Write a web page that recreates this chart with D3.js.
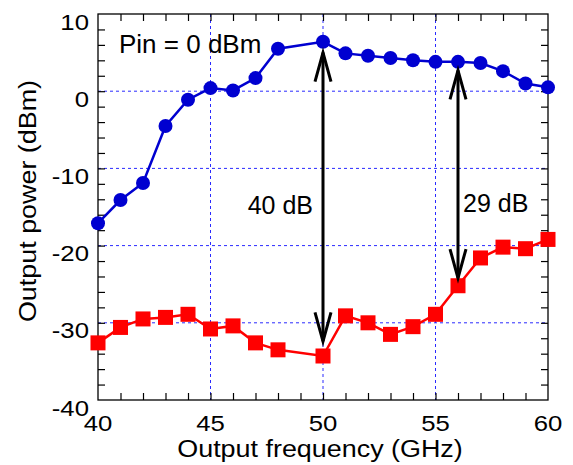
<!DOCTYPE html>
<html>
<head>
<meta charset="utf-8">
<script src="https://cdn.jsdelivr.net/npm/d3@7"></script>
<style>
  body { margin: 0; background: #fff; }
  text { font-family: "Liberation Sans", Arial, sans-serif; fill: #000; }
</style>
</head>
<body>
<div id="chart"></div>
<script>
// data (no point at 49 GHz)
var freqs = [40, 41, 42, 43, 44, 45, 46, 47, 48, 50, 51, 52, 53, 54, 55, 56, 57, 58, 59, 60];
var pout = [-17.1, -14.1, -11.9, -4.5, -1.1, 0.4, 0.1, 1.7, 5.5, 6.4, 4.9, 4.6, 4.3, 4.0, 3.8, 3.8, 3.65, 2.6, 1.0, 0.5];
var leak = [-32.6, -30.6, -29.5, -29.3, -28.9, -30.8, -30.4, -32.6, -33.5, -34.3, -29.1, -30.0, -31.5, -30.5, -28.9, -25.2, -21.6, -20.2, -20.4, -19.2];

var xTicks = [40, 45, 50, 55, 60];
var yTicks = [10, 0, -10, -20, -30, -40];

// arrows between the two curves
var arrowX = [50, 56];
var arrowTop = [5.0, 2.7];
var arrowBottom = [-32.4, -24.2];
var arrowLabels = ["40 dB", "29 dB"];

var svgWidth = 573;
var svgHeight = 465;

var svg = d3.select("#chart")
  .append("svg")
  .attr("width", svgWidth)
  .attr("height", svgHeight);

var x = d3.scaleLinear().domain([40, 60]).range([98, 548]);
var y = d3.scaleLinear().domain([-40, 10]).range([400, 14]);

var stretch = 1.17;

// grid
var grid = svg.append("g")
  .attr("stroke", "#2a2aff")
  .attr("stroke-width", 1)
  .attr("stroke-dasharray", "3,3");

grid.selectAll("line.v")
  .data(xTicks.slice(1, -1))
  .enter().append("line")
  .attr("x1", d => x(d)).attr("x2", d => x(d))
  .attr("y1", y(10)).attr("y2", y(-40));

grid.selectAll("line.h")
  .data(yTicks.slice(1, -1))
  .enter().append("line")
  .attr("y1", d => y(d)).attr("y2", d => y(d))
  .attr("x1", x(40)).attr("x2", x(60));

// axes with inward ticks, labels drawn separately
var tickLen = 7;
function axisStyle(g) {
  g.select(".domain").remove();
  g.selectAll("line").attr("stroke", "#000").attr("stroke-width", 1.2);
  g.selectAll("text").remove();
}

svg.append("g").attr("transform", `translate(0,${y(-40)})`)
  .call(d3.axisBottom(x).tickValues(d3.range(41, 60)).tickSize(-tickLen)).call(axisStyle);
svg.append("g").attr("transform", `translate(0,${y(10)})`)
  .call(d3.axisTop(x).tickValues(d3.range(41, 60)).tickSize(-tickLen)).call(axisStyle);
svg.append("g").attr("transform", `translate(${x(40)},0)`)
  .call(d3.axisLeft(y).tickValues(d3.range(-38, 10, 2)).tickSize(-tickLen)).call(axisStyle);
svg.append("g").attr("transform", `translate(${x(60)},0)`)
  .call(d3.axisRight(y).tickValues(d3.range(-38, 10, 2)).tickSize(-tickLen)).call(axisStyle);

// frame
svg.append("rect")
  .attr("x", x(40)).attr("y", y(10))
  .attr("width", x(60) - x(40)).attr("height", y(-40) - y(10))
  .attr("fill", "none").attr("stroke", "#000").attr("stroke-width", 1.3);

// tick labels
svg.selectAll("text.xt")
  .data(xTicks)
  .enter().append("text")
  .attr("class", "xt")
  .attr("transform", d => `translate(${x(d)},431) scale(${stretch},1)`)
  .attr("text-anchor", "middle")
  .style("font-size", "22px")
  .text(d => d);

svg.selectAll("text.yt")
  .data(yTicks)
  .enter().append("text")
  .attr("class", "yt")
  .attr("transform", d => `translate(89,${y(d) + 15.5}) scale(${stretch},1)`)
  .attr("text-anchor", "end")
  .style("font-size", "22px")
  .text(d => d);

// axis titles
svg.append("text")
  .attr("transform", `translate(320,457) scale(${stretch},1)`)
  .attr("text-anchor", "middle")
  .style("font-size", "23px")
  .text("Output frequency (GHz)");

svg.append("text")
  .attr("transform", `translate(36,201) rotate(-90) scale(${stretch},1)`)
  .attr("text-anchor", "middle")
  .style("font-size", "23px")
  .text("Output power (dBm)");

// series
var line = d3.line()
  .x((d, i) => x(freqs[i]))
  .y(d => y(d));

svg.append("path")
  .datum(pout)
  .attr("d", line)
  .attr("fill", "none")
  .attr("stroke", "#0000d0")
  .attr("stroke-width", 2.5);

svg.selectAll("circle.p")
  .data(pout)
  .enter().append("circle")
  .attr("cx", (d, i) => x(freqs[i]))
  .attr("cy", d => y(d))
  .attr("r", 7)
  .attr("fill", "#0000d0");

svg.append("path")
  .datum(leak)
  .attr("d", line)
  .attr("fill", "none")
  .attr("stroke", "#ff0000")
  .attr("stroke-width", 2.5);

var sq = 15;
svg.selectAll("rect.l")
  .data(leak)
  .enter().append("rect")
  .attr("x", (d, i) => x(freqs[i]) - sq / 2)
  .attr("y", d => y(d) - sq / 2)
  .attr("width", sq).attr("height", sq)
  .attr("fill", "#ff0000");

// double arrows
var arrows = svg.append("g")
  .attr("stroke", "#000")
  .attr("stroke-width", 3)
  .attr("fill", "none");

arrowX.forEach(function(f, i) {
  var ax = x(f), y1 = y(arrowTop[i]), y2 = y(arrowBottom[i]);
  arrows.append("line").attr("x1", ax).attr("x2", ax).attr("y1", y1).attr("y2", y2);
  arrows.append("path").attr("d", `M${ax - 8},${y1 + 29}L${ax},${y1}L${ax + 8},${y1 + 29}`);
  arrows.append("path").attr("d", `M${ax - 8},${y2 - 29}L${ax},${y2}L${ax + 8},${y2 - 29}`);
});

// annotations
svg.append("text")
  .attr("x", 119).attr("y", 53)
  .style("font-size", "26px")
  .text("Pin = 0 dBm");

svg.append("text")
  .attr("x", x(arrowX[0]) - 10).attr("y", 214)
  .attr("text-anchor", "end")
  .style("font-size", "25px")
  .text(arrowLabels[0]);

svg.append("text")
  .attr("x", x(arrowX[1]) + 5).attr("y", 212)
  .style("font-size", "25px")
  .text(arrowLabels[1]);
</script>
</body>
</html>
